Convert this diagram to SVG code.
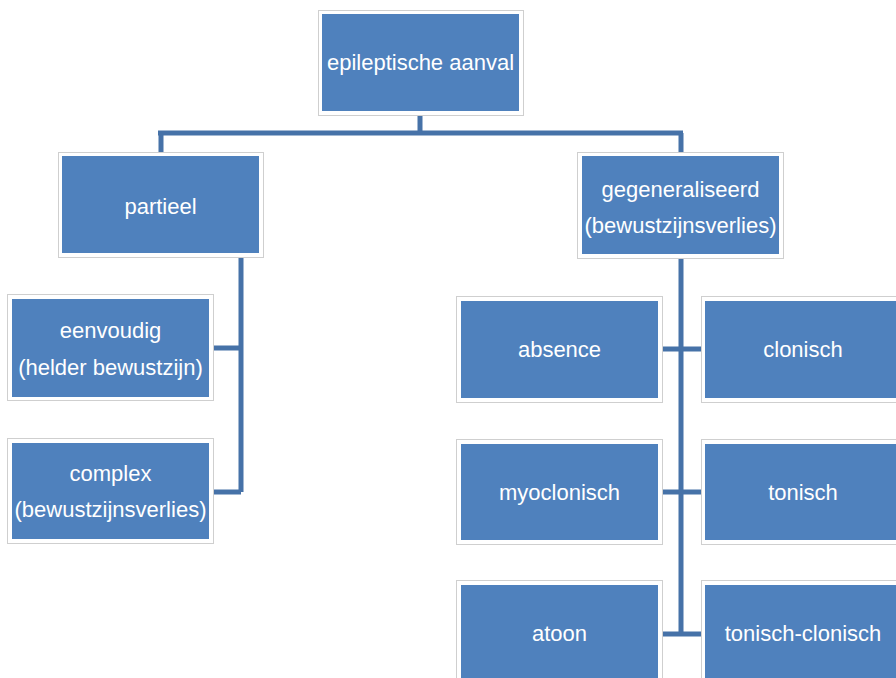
<svg xmlns="http://www.w3.org/2000/svg" width="896" height="678" viewBox="0 0 896 678">
<style>
.o{fill:#ffffff;stroke:#cfcfcf;stroke-width:1}
.i{fill:#4F81BD}
.t{fill:#ffffff;font-family:"Liberation Sans",Arial,sans-serif;font-size:22px;text-anchor:middle;dominant-baseline:central}
.c{fill:none;stroke:#4672A8;stroke-width:5}
</style>
<rect width="896" height="678" fill="#ffffff"/>
<g id="connectors">
<path class="c" d="M420,115 V133 M158,133 H683 M161,133 V153 M681,133 V152"/>
<path class="c" d="M241,257 V492 M213,348 H241 M213,492 H241"/>
<path class="c" d="M681,259 V634 M662,349 H701 M662,492 H701 M662,634 H701"/>
</g>
<g id="n-epileptische">
<rect class="o" x="318.500" y="10.500" width="205" height="105"/>
<rect class="i" x="322" y="14" width="197" height="97"/>
<text class="t" x="420.500" y="62">epileptische aanval</text>
</g>
<g id="n-partieel">
<rect class="o" x="58.500" y="152.500" width="205" height="105"/>
<rect class="i" x="62" y="156" width="197" height="97"/>
<text class="t" x="160.500" y="206">partieel</text>
</g>
<g id="n-gegeneraliseerd">
<rect class="o" x="577.500" y="152.500" width="206" height="106"/>
<rect class="i" x="582" y="156" width="197" height="98"/>
<text class="t" x="680.500" y="189">gegeneraliseerd</text>
<text class="t" x="680.500" y="225">(bewustzijnsverlies)</text>
</g>
<g id="n-eenvoudig">
<rect class="o" x="7.500" y="294.500" width="206" height="106"/>
<rect class="i" x="12" y="299" width="197" height="98"/>
<text class="t" x="110.500" y="330">eenvoudig</text>
<text class="t" x="110.500" y="367">(helder bewustzijn)</text>
</g>
<g id="n-complex">
<rect class="o" x="7.500" y="438.500" width="206" height="105"/>
<rect class="i" x="12" y="443" width="197" height="96"/>
<text class="t" x="110.500" y="473">complex</text>
<text class="t" x="110.500" y="509">(bewustzijnsverlies)</text>
</g>
<g id="n-absence">
<rect class="o" x="456.500" y="296.500" width="206" height="106"/>
<rect class="i" x="461" y="301" width="197" height="97"/>
<text class="t" x="559.500" y="349">absence</text>
</g>
<g id="n-clonisch">
<rect class="o" x="701.500" y="296.500" width="206" height="106"/>
<rect class="i" x="705" y="301" width="197" height="97"/>
<text class="t" x="803" y="349">clonisch</text>
</g>
<g id="n-myoclonisch">
<rect class="o" x="456.500" y="439.500" width="206" height="105"/>
<rect class="i" x="461" y="444" width="197" height="96"/>
<text class="t" x="559.500" y="492">myoclonisch</text>
</g>
<g id="n-tonisch">
<rect class="o" x="701.500" y="439.500" width="206" height="105"/>
<rect class="i" x="705" y="444" width="197" height="96"/>
<text class="t" x="803" y="492">tonisch</text>
</g>
<g id="n-atoon">
<rect class="o" x="456.500" y="580.500" width="206" height="106"/>
<rect class="i" x="461" y="585" width="197" height="97"/>
<text class="t" x="559.500" y="633">atoon</text>
</g>
<g id="n-tonisch-clonisch">
<rect class="o" x="701.500" y="580.500" width="206" height="106"/>
<rect class="i" x="705" y="585" width="197" height="97"/>
<text class="t" x="803" y="633">tonisch-clonisch</text>
</g>
</svg>
